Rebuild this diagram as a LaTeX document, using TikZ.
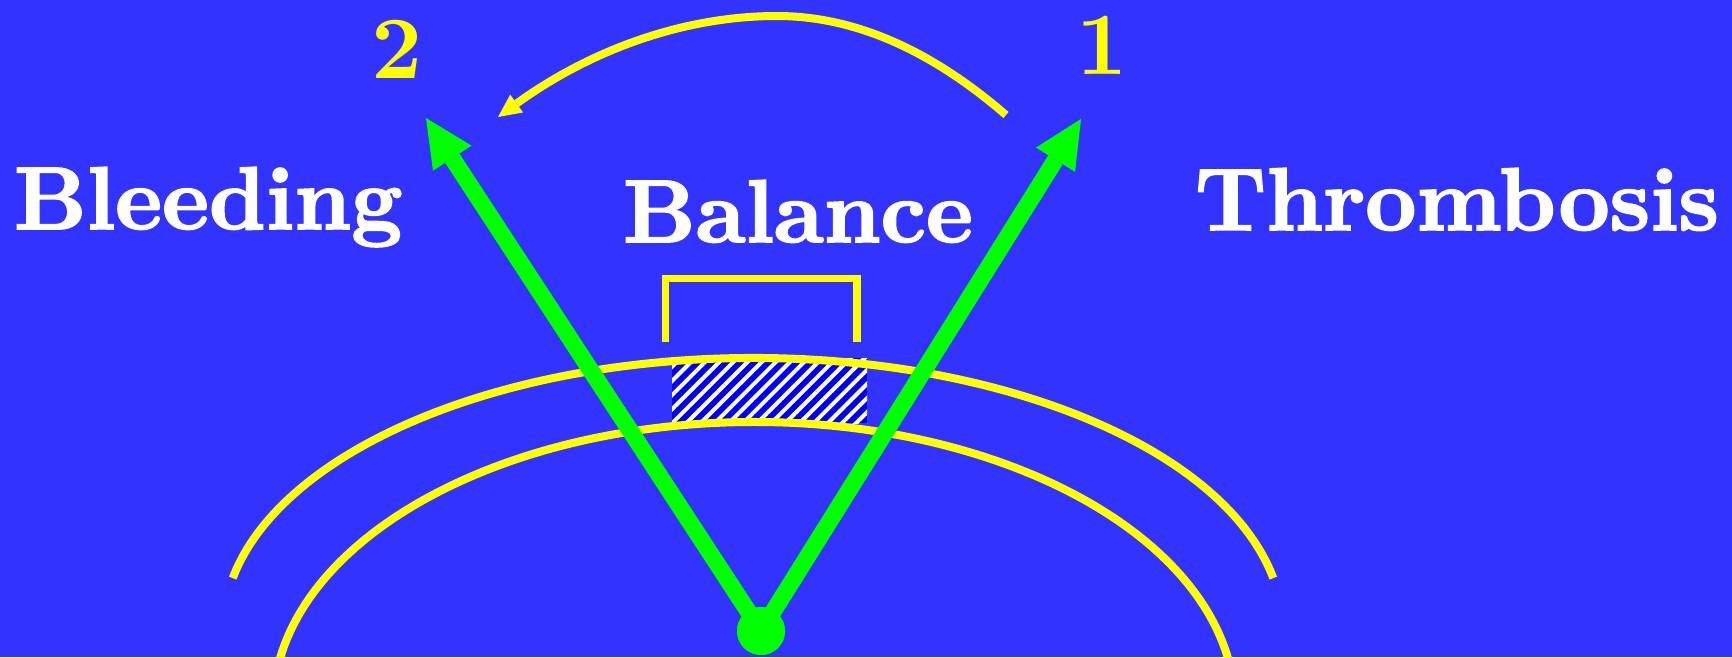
\documentclass[tikz,border=0pt]{standalone}
\usepackage{fontspec}
\newfontfamily\bxten{lmroman10-bold}[Extension=.otf]
\newfontfamily\bxfat{lmroman10-bold}[Extension=.otf, FakeBold=2]
\usetikzlibrary{arrows.meta,patterns.meta}
\definecolor{bgblue}{RGB}{51,51,255}
\definecolor{hatchblue}{RGB}{0,0,240}
\definecolor{ygold}{RGB}{255,255,0}
\definecolor{lgreen}{RGB}{0,255,0}
\begin{document}
\begin{tikzpicture}[x=1pt,y=-1pt,
  lbl/.style={inner sep=0pt, outer sep=0pt, text=white, font={\fontsize{89}{100}\bxfat}},
  num/.style={inner sep=0pt, outer sep=0pt, text=ygold, font={\fontsize{89}{100}\bxten}},
  greenarrow/.style={draw=lgreen, line width=17pt, -{Triangle[length=48pt,width=46pt,line width=0pt]}},
  yline/.style={draw=ygold, line width=8pt},
  yarrow/.style={yline, -{Triangle[length=23pt,width=22pt,line width=0pt]}},
]
\fill[bgblue] (0,0) rectangle (1732,657);
\useasboundingbox (0,0) rectangle (1732,657);
\clip (0,0) rectangle (1732,657);

% hatched block
\fill[hatchblue] (672,358) rectangle (867,423);
\fill[pattern={Lines[angle=45,distance=10pt,line width=4pt]}, pattern color=white] (672,358) rectangle (867,423);

% bracket
\draw[ygold, line width=7.5pt, line join=miter] (665.5,342) -- (665.5,278.5) -- (857,278.5) -- (857,342);

% ellipses
\coordinate (outerc) at (753,630);
\coordinate (innerc) at (754,707);
\draw[yline] (outerc) ++(11:530pt and 272pt) arc[start angle=11, end angle=169, x radius=530pt, y radius=272pt];
\draw[yline] (innerc) ++(5:481pt and 285pt) arc[start angle=5, end angle=175, x radius=481pt, y radius=285pt];

% curved arrow 1 -> 2
\coordinate (arcS) at (1006,115);
\coordinate (arcT) at (777,16);
\coordinate (arcE) at (498,117);
\draw[yarrow] (arcS) .. controls (929.7,49) and (853.3,16) .. (arcT)
  .. controls (684,16) and (591,49.7) .. (arcE);

% green arrows
\node[circle, fill=lgreen, minimum size=48pt, inner sep=0pt] (dot) at (761,631) {};
\coordinate (tipL) at (426,118);
\coordinate (tipR) at (1081,119);
\draw[greenarrow] (dot.center) -- (tipL);
\draw[greenarrow] (dot.center) -- (tipR);
\node[circle, fill=lgreen, minimum size=48pt, inner sep=0pt] (dottop) at (dot.center) {};

% labels
\node[lbl, anchor=base west] (bleed) at (14,229) {Bleeding};
\node[lbl, anchor=base west] (bal) at (623,242) {Balance};
\node[lbl, anchor=base west] (thromb) at (1195,230) {Thrombosis};
\node[num, anchor=base] (two) at (397,78) {2};
\node[num, anchor=base] (one) at (1102,74) {1};
\end{tikzpicture}
\end{document}
